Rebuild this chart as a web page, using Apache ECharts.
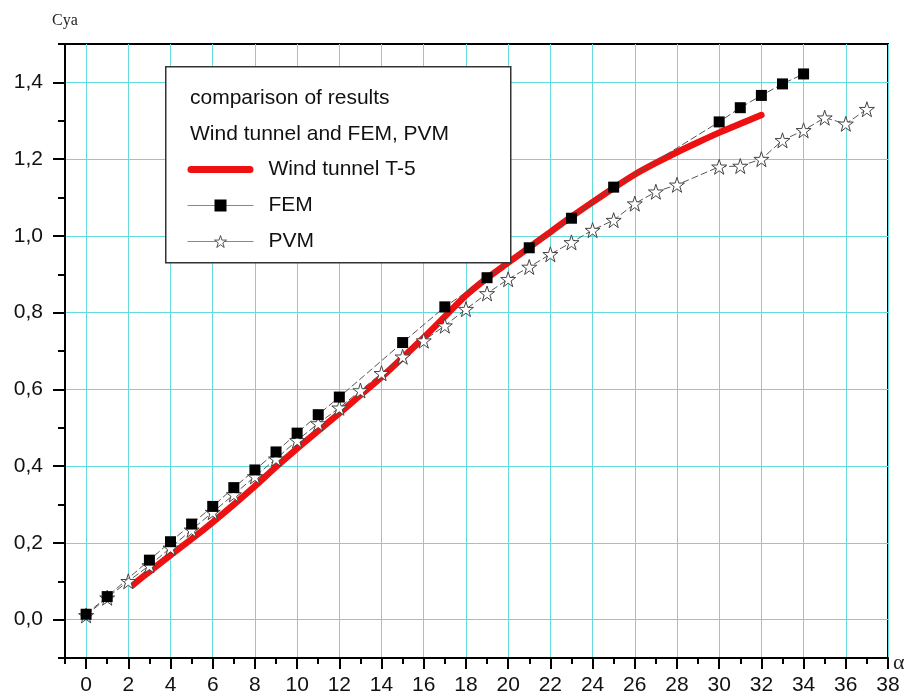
<!DOCTYPE html>
<html>
<head>
<meta charset="utf-8">
<script src="https://cdn.jsdelivr.net/npm/echarts@6/dist/echarts.min.js"></script>
<style>html,body{margin:0;padding:0;background:#fff}#c{width:912px;height:700px}</style>
</head>
<body>
<div id="c"></div>
<script>
// ---- data ----
const alphaT5 = [2.2,3,4,5,6,7,8,9,10,11,12,13,14,15,16,17,18,19,20,21,22,23,24,25,26,27,28,29,30,31,32];
const cyaT5   = [0.09,0.125,0.168,0.21,0.254,0.3,0.348,0.398,0.446,0.492,0.538,0.585,0.632,0.683,0.735,0.79,0.845,0.89,0.93,0.97,1.01,1.05,1.088,1.125,1.16,1.19,1.218,1.244,1.269,1.292,1.315];

const alphaFEM = [0,1,3,4,5,6,7,8,9,10,11,12,15,17,19,21,23,25,30,31,32,33,34];
const cyaFEM   = [0.014,0.06,0.155,0.203,0.249,0.295,0.344,0.39,0.437,0.486,0.534,0.58,0.722,0.815,0.891,0.969,1.046,1.127,1.297,1.334,1.366,1.396,1.422];

const alphaPVM = [0,1,2,3,4,5,6,7,8,9,10,11,12,13,14,15,16,17,18,19,20,21,22,23,24,25,26,27,28,30,31,32,33,34,35,36,37];
const cyaPVM   = [0.011,0.057,0.1,0.141,0.187,0.234,0.28,0.326,0.373,0.419,0.467,0.511,0.552,0.597,0.642,0.685,0.727,0.766,0.809,0.85,0.887,0.919,0.952,0.983,1.015,1.041,1.084,1.115,1.133,1.18,1.182,1.2,1.249,1.275,1.308,1.292,1.33];

const xTickLabels = [0,2,4,6,8,10,12,14,16,18,20,22,24,26,28,30,32,34,36,38];
const yTickLabels = [0,0.2,0.4,0.6,0.8,1.0,1.2,1.4];

const seriesNames = ['Wind tunnel T-5','FEM','PVM'];
const legendTitle1 = 'comparison of results';
const legendTitle2 = 'Wind tunnel and FEM, PVM';
const yName = 'Cya';
const xName = 'α';

// ---- chart ----
const zip = (a, b) => a.map((v, i) => [v, b[i]]);
const star = 'path://M10,0 L12.245,6.91 L19.511,6.91 L13.633,11.18 L15.878,18.09 L10,13.82 L4.122,18.09 L6.367,11.18 L0.489,6.91 L7.755,6.91 Z';
const cyan = '#63dbdf';
const font = 'Arial, "Liberation Sans", sans-serif';

const chart = echarts.init(document.getElementById('c'), null, {renderer: 'canvas'});
chart.setOption({
  animation: false,
  backgroundColor: '#fff',
  grid: {left: 65, top: 44, right: 24, bottom: 42, show: true, borderColor: '#000', borderWidth: 2, backgroundColor: 'transparent'},
  xAxis: [{
    type: 'value', min: -1, max: 38, interval: 1, position: 'bottom',
    axisLine: {onZero: false, lineStyle: {color: '#000', width: 2}},
    axisTick: {customValues: xTickLabels, length: 11, lineStyle: {color: '#000', width: 2}},
    axisLabel: {customValues: xTickLabels, fontSize: 21, fontFamily: font, color: '#111', margin: 17},
    splitLine: {show: true, lineStyle: {color: cyan, width: 1}}
  }, {
    type: 'value', min: -1, max: 38, interval: 1, position: 'top', offset: -614,
    axisLine: {show: false, onZero: false},
    axisTick: {show: true, inside: true, length: 6, lineStyle: {color: '#000', width: 2}},
    axisLabel: {show: false},
    splitLine: {show: false}
  }],
  yAxis: [{
    type: 'value', min: -0.1, max: 1.5, interval: 0.1, position: 'left',
    axisLine: {show: true, onZero: false, lineStyle: {color: '#000', width: 2}},
    axisTick: {show: true, customValues: yTickLabels, length: 12, lineStyle: {color: '#000', width: 2}},
    axisLabel: {customValues: yTickLabels, fontSize: 21, fontFamily: font, color: '#111', margin: 22,
      formatter: v => v.toFixed(1).replace('.', ',')},
    splitLine: {show: true, lineStyle: {color: cyan, width: 1}}
  }, {
    type: 'value', min: -0.1, max: 1.5, interval: 0.1, position: 'right', offset: -823,
    axisLine: {show: false, onZero: false},
    axisTick: {show: true, inside: true, length: 7, lineStyle: {color: '#000', width: 2}},
    axisLabel: {show: false},
    splitLine: {show: false}
  }],
  legend: {
    orient: 'vertical', left: 182, top: 154, itemWidth: 66, itemHeight: 15, itemGap: 15, z: 100,
    selectedMode: false,
    data: [
      {name: seriesNames[0], icon: 'path://M3.5,0 L62.5,0 A3.5,3.5 0 0 1 62.5,7 L3.5,7 A3.5,3.5 0 0 1 3.5,0 Z'},
      {name: seriesNames[1]},
      {name: seriesNames[2], itemStyle: {color: '#fff', borderColor: '#555', borderWidth: 1}}
    ],
    lineStyle: {type: 'solid', color: '#888', width: 1},
    textStyle: {fontSize: 21, fontFamily: font, color: '#111', padding: [0, 0, 0, 10]}
  },
  graphic: [
    {type: 'rect', left: 165, top: 66, z: 50, shape: {width: 345, height: 196},
      style: {fill: '#fff', stroke: '#333', lineWidth: 1.5}},
    {type: 'text', left: 190, top: 88, z: 51, style: {text: legendTitle1, fontSize: 21, fontFamily: font, fill: '#111'}},
    {type: 'text', left: 190, top: 124, z: 51, style: {text: legendTitle2, fontSize: 21, fontFamily: font, fill: '#111'}},
    {type: 'text', left: 52, top: 13, style: {text: yName, fontSize: 16, fontFamily: '"Liberation Serif", "DejaVu Serif", serif', fill: '#222'}},
    {type: 'text', left: 893, top: 652, style: {text: xName, fontSize: 22, fontFamily: '"Liberation Serif", "DejaVu Serif", serif', fill: '#222'}}
  ],
  series: [{
    name: seriesNames[0], type: 'line', smooth: 0.25, data: zip(alphaT5, cyaT5), symbol: 'none', z: 3,
    lineStyle: {color: '#ee1111', width: 6.5, cap: 'round', join: 'round'}, itemStyle: {color: '#ee1111'}
  }, {
    name: seriesNames[2], type: 'line', data: zip(alphaPVM, cyaPVM), symbol: star, symbolSize: 15, z: 4,
    lineStyle: {color: '#555', width: 1, type: [7, 3]},
    itemStyle: {color: '#fff', borderColor: '#444', borderWidth: 1}
  }, {
    name: seriesNames[1], type: 'line', data: zip(alphaFEM, cyaFEM), symbol: 'rect', symbolSize: 11, z: 5,
    lineStyle: {color: '#555', width: 1, type: [7, 3]},
    itemStyle: {color: '#000', borderColor: '#000', borderWidth: 0}
  }]
});
</script>
</body>
</html>
